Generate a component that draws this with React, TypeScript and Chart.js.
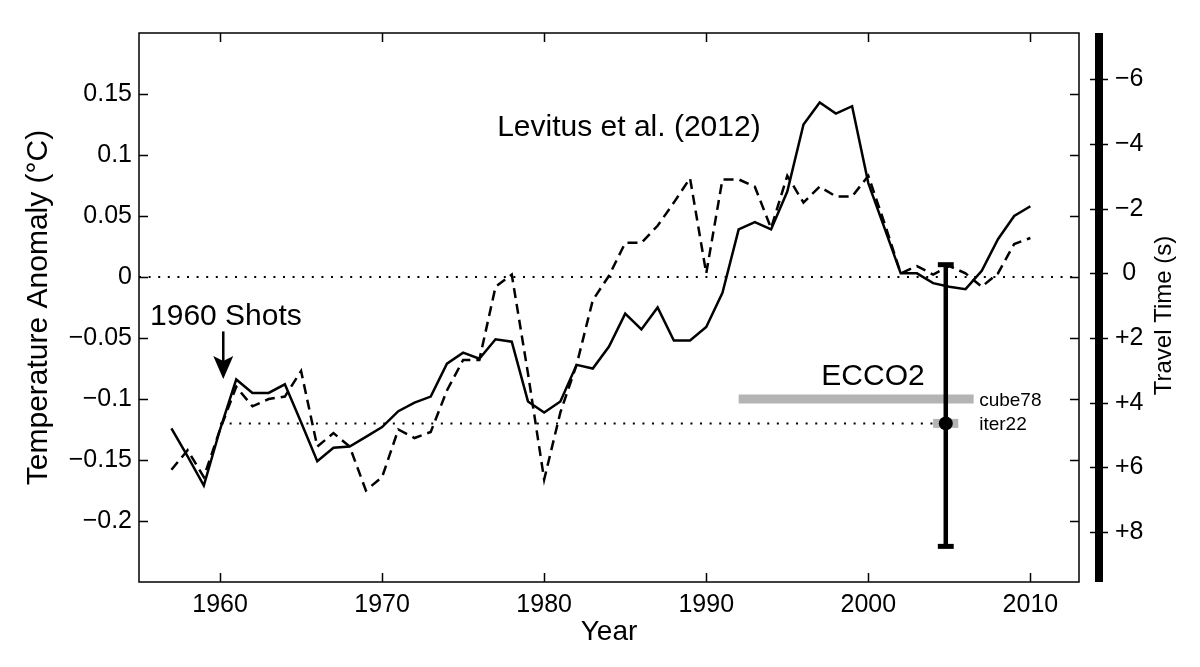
import React, { useEffect, useRef } from 'react';
import { Chart, registerables } from 'chart.js';

Chart.register(...registerables);

const FONT = "'Liberation Sans', Arial, Helvetica, sans-serif";

// ---- data ----
const years = [
  1957, 1958, 1959, 1960, 1961, 1962, 1963, 1964, 1965, 1966,
  1967, 1968, 1969, 1970, 1971, 1972, 1973, 1974, 1975, 1976,
  1977, 1978, 1979, 1980, 1981, 1982, 1983, 1984, 1985, 1986,
  1987, 1988, 1989, 1990, 1991, 1992, 1993, 1994, 1995, 1996,
  1997, 1998, 1999, 2000, 2001, 2002, 2003, 2004, 2005, 2006,
  2007, 2008, 2009, 2010,
];
const levitusSolid = [
  -0.124, -0.147, -0.171, -0.125, -0.084, -0.095, -0.095, -0.088, -0.119, -0.151,
  -0.140, -0.139, -0.131, -0.123, -0.110, -0.103, -0.098, -0.071, -0.062, -0.067,
  -0.051, -0.053, -0.102, -0.111, -0.102, -0.072, -0.075, -0.057, -0.030, -0.043,
  -0.025, -0.052, -0.052, -0.041, -0.013, 0.039, 0.045, 0.039, 0.070, 0.125,
  0.143, 0.134, 0.140, 0.077, 0.040, 0.003, 0.003, -0.005, -0.008, -0.010,
  0.005, 0.031, 0.050, 0.058,
];
const levitusDashed = [
  -0.158, -0.142, -0.164, -0.125, -0.090, -0.106, -0.100, -0.098, -0.077, -0.139,
  -0.128, -0.139, -0.175, -0.164, -0.125, -0.132, -0.127, -0.093, -0.068, -0.068,
  -0.008, 0.002, -0.079, -0.166, -0.111, -0.072, -0.019, 0.001, 0.028, 0.028,
  0.042, 0.061, 0.081, 0.003, 0.080, 0.080, 0.074, 0.040, 0.083, 0.061,
  0.074, 0.066, 0.066, 0.083, 0.044, 0.003, 0.009, 0.002, 0.009, 0.003,
  -0.008, 0.003, 0.027, 0.032,
];

const xTicks = [1960, 1970, 1980, 1990, 2000, 2010];
const tempTicks = [-0.2, -0.15, -0.1, -0.05, 0, 0.05, 0.1, 0.15];
const travelTicks = [-6, -4, -2, 0, 2, 4, 6, 8];

const zeroLineYears = [1955, 2013];
const zeroLineValues = [0, 0];
const shotLineYears = [1960, 2004];
const shotLineValues = [-0.12, -0.12];

const cube78Years = [1992, 2006.5];
const cube78Values = [-0.1, -0.1];
const iter22Years = [2004, 2005.55];
const iter22Values = [-0.12, -0.12];

const errorYear = 2004.78;
const errorTop = 0.0101;
const errorBottom = -0.2208;
const errorCenter = -0.12;
const CAP_HALF = 0.49; // half cap width in years

const pts = (xs: number[], ys: number[]) => xs.map((x, i) => ({ x, y: ys[i] }));

const fmtTemp = (v: number) => {
  const r = Math.round(v * 100) / 100;
  if (r === 0) return '0';
  const s = String(Math.abs(r));
  return (r < 0 ? '\u2212' : '') + s;
};
const fmtTravel = (v: number) => {
  if (v === 0) return '0';
  return (v < 0 ? '\u2212' : '+') + Math.abs(v);
};

const annotations = [
  { text: 'Levitus et al. (2012)', x: 1977.1, y: 0.1152, size: 30 },
  { text: '1960 Shots', x: 1955.68, y: -0.039, size: 30 },
  { text: 'ECCO2', x: 1997.1, y: -0.0883, size: 30 },
  { text: 'cube78', x: 2006.84, y: -0.106, size: 19 },
  { text: 'iter22', x: 2006.84, y: -0.125, size: 19 },
];
const arrowYear = 1960.2;
const arrowFrom = -0.0446;
const arrowTo = -0.0836;

const noPad = (s: any) => {
  s.paddingTop = 0;
  s.paddingBottom = 0;
  s.paddingLeft = 0;
  s.paddingRight = 0;
};

const framePlugin = {
  id: 'frame',
  afterDraw(chart: any) {
    const { ctx, chartArea } = chart;
    const { left, right, top, bottom } = chartArea;
    const xs = chart.scales.x;
    const ys = chart.scales.y;
    const y2 = chart.scales.y2;
    ctx.save();
    ctx.strokeStyle = '#000';
    ctx.lineWidth = 1.5;
    ctx.strokeRect(left, top, right - left, bottom - top);
    const TL = 9;
    ctx.beginPath();
    xTicks.forEach((v) => {
      const px = Math.round(xs.getPixelForValue(v)) + 0.5;
      ctx.moveTo(px, bottom);
      ctx.lineTo(px, bottom - TL);
      ctx.moveTo(px, top);
      ctx.lineTo(px, top + TL);
    });
    tempTicks.forEach((v) => {
      const py = Math.round(ys.getPixelForValue(v)) + 0.5;
      ctx.moveTo(left, py);
      ctx.lineTo(left + TL, py);
      ctx.moveTo(right, py);
      ctx.lineTo(right - TL, py);
    });
    ctx.stroke();

    // separate travel-time axis: thick bar
    const barX = right + 16;
    const barW = 8;
    ctx.fillStyle = '#000';
    ctx.fillRect(barX, top, barW, bottom - top);
    ctx.beginPath();
    ctx.lineWidth = 1.5;
    travelTicks.forEach((v) => {
      const py = Math.round(y2.getPixelForValue(v)) + 0.5;
      ctx.moveTo(barX - 5, py);
      ctx.lineTo(barX + barW + 5, py);
    });
    ctx.stroke();

    // right axis title
    ctx.save();
    ctx.translate(right + 85, (top + bottom) / 2 + 8);
    ctx.rotate(-Math.PI / 2);
    ctx.font = `24px ${FONT}`;
    ctx.textAlign = 'center';
    ctx.textBaseline = 'middle';
    ctx.fillStyle = '#000';
    ctx.fillText('Travel Time (s)', 0, 0);
    ctx.restore();

    // text annotations
    ctx.fillStyle = '#000';
    ctx.textAlign = 'left';
    ctx.textBaseline = 'alphabetic';
    annotations.forEach((a) => {
      ctx.font = `${a.size}px ${FONT}`;
      ctx.fillText(a.text, xs.getPixelForValue(a.x), ys.getPixelForValue(a.y));
    });

    // arrow
    const ax = xs.getPixelForValue(arrowYear);
    const ay0 = ys.getPixelForValue(arrowFrom);
    const ay1 = ys.getPixelForValue(arrowTo);
    ctx.beginPath();
    ctx.lineWidth = 2.5;
    ctx.moveTo(ax, ay0);
    ctx.lineTo(ax, ay1 - 15);
    ctx.stroke();
    ctx.beginPath();
    ctx.moveTo(ax, ay1);
    ctx.lineTo(ax - 10, ay1 - 23);
    ctx.lineTo(ax, ay1 - 18);
    ctx.lineTo(ax + 10, ay1 - 23);
    ctx.closePath();
    ctx.fill();
    ctx.restore();
  },
};

export default function App() {
  const ref = useRef<HTMLCanvasElement>(null);

  useEffect(() => {
    if (!ref.current) return;
    const base = { fill: false, tension: 0, pointRadius: 0, borderCapStyle: 'butt' as const };
    const chart = new Chart(ref.current, {
      type: 'line',
      data: {
        datasets: [
          {
            ...base,
            label: 'iter22 mean',
            data: [{ x: errorYear, y: errorCenter }],
            showLine: false,
            pointRadius: 7,
            pointBackgroundColor: '#000',
            pointBorderWidth: 0,
            borderColor: '#000',
          },
          {
            ...base,
            label: 'error bar',
            data: [{ x: errorYear, y: errorTop }, { x: errorYear, y: errorBottom }],
            borderColor: '#000',
            borderWidth: 4.5,
          },
          {
            ...base,
            label: 'cap top',
            data: [{ x: errorYear - CAP_HALF, y: errorTop }, { x: errorYear + CAP_HALF, y: errorTop }],
            borderColor: '#000',
            borderWidth: 5,
          },
          {
            ...base,
            label: 'cap bottom',
            data: [{ x: errorYear - CAP_HALF, y: errorBottom }, { x: errorYear + CAP_HALF, y: errorBottom }],
            borderColor: '#000',
            borderWidth: 5,
          },
          {
            ...base,
            label: 'iter22',
            data: pts(iter22Years, iter22Values),
            borderColor: '#b4b4b4',
            borderWidth: 9,
          },
          {
            ...base,
            label: 'cube78',
            data: pts(cube78Years, cube78Values),
            borderColor: '#b4b4b4',
            borderWidth: 9,
          },
          {
            ...base,
            label: 'Levitus solid',
            data: pts(years, levitusSolid),
            borderColor: '#000',
            borderWidth: 2.5,
            borderJoinStyle: 'miter',
          },
          {
            ...base,
            label: 'Levitus dashed',
            data: pts(years, levitusDashed),
            borderColor: '#000',
            borderWidth: 2.5,
            borderDash: [10, 6],
          },
          {
            ...base,
            label: 'zero',
            data: pts(zeroLineYears, zeroLineValues),
            borderColor: '#000',
            borderWidth: 2,
            borderDash: [2, 7.6],
          },
          {
            ...base,
            label: '1960 level',
            data: pts(shotLineYears, shotLineValues),
            borderColor: '#000',
            borderWidth: 2,
            borderDash: [2, 7.6],
          },
        ],
      },
      options: {
        animation: false,
        responsive: true,
        maintainAspectRatio: false,
        layout: { padding: { top: 33, left: 0, right: 0, bottom: 0 } },
        plugins: { legend: { display: false }, tooltip: { enabled: false } },
        scales: {
          x: {
            type: 'linear',
            min: 1955,
            max: 2013,
            grid: { display: false, drawTicks: false },
            border: { display: false },
            afterBuildTicks: (s: any) => {
              s.ticks = xTicks.map((v) => ({ value: v }));
            },
            afterFit: (s: any) => {
              s.height = 85;
              noPad(s);
            },
            ticks: {
              font: { size: 25, family: FONT },
              color: '#000',
              padding: 8,
              maxRotation: 0,
              autoSkip: false,
              callback: (v: any) => String(v),
            },
            title: {
              display: true,
              text: 'Year',
              font: { size: 28, family: FONT },
              color: '#000',
              padding: { top: 0, bottom: 18 },
            },
          },
          y: {
            type: 'linear',
            position: 'left',
            min: -0.25,
            max: 0.2,
            grid: { display: false, drawTicks: false },
            border: { display: false },
            afterBuildTicks: (s: any) => {
              s.ticks = tempTicks.map((v) => ({ value: v }));
            },
            afterFit: (s: any) => {
              s.width = 139;
              noPad(s);
            },
            ticks: {
              font: { size: 25, family: FONT },
              color: '#000',
              padding: 7,
              autoSkip: false,
              callback: (v: any) => fmtTemp(Number(v)),
            },
            title: {
              display: true,
              text: 'Temperature Anomaly (\u00B0C)',
              font: { size: 30, family: FONT },
              color: '#000',
              padding: { top: 21, bottom: 0 },
            },
          },
          y2: {
            type: 'linear',
            position: 'right',
            reverse: true,
            min: -7.43,
            max: 9.54,
            grid: { display: false, drawTicks: false },
            border: { display: false },
            afterBuildTicks: (s: any) => {
              s.ticks = travelTicks.map((v) => ({ value: v }));
            },
            afterFit: (s: any) => {
              s.width = 121;
              noPad(s);
            },
            ticks: {
              font: { size: 25, family: FONT },
              color: '#000',
              padding: 36,
              crossAlign: 'center',
              autoSkip: false,
              callback: (v: any) => fmtTravel(Number(v)),
            },
          },
        },
      },
      plugins: [framePlugin],
    } as any);
    return () => chart.destroy();
  }, []);

  return (
    <div style={{ position: 'absolute', left: 0, top: 0, width: 1200, height: 667, background: '#fff' }}>
      <canvas ref={ref} />
    </div>
  );
}
